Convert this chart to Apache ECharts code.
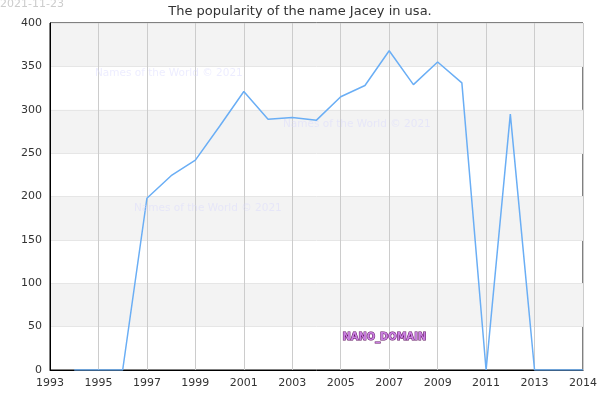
<!DOCTYPE html>
<html>
<head>
<meta charset="utf-8">
<script src="https://cdn.jsdelivr.net/npm/echarts@6/dist/echarts.min.js"></script>
<style>
  html, body { margin: 0; padding: 0; background: #fff; }
  #chart { width: 600px; height: 400px; }
</style>
</head>
<body>
<div id="chart"></div>
<script>
  // yearly counts of the name Jacey
  var years = [1994, 1995, 1996, 1997, 1998, 1999, 2000, 2001, 2002, 2003, 2004,
               2005, 2006, 2007, 2008, 2009, 2010, 2011, 2012, 2013, 2014, 2015];
  var counts = [0, 0, 0, 198, 224, 242, 281, 321, 289, 291, 288,
                315, 328, 368, 329, 355, 331, 0, 295, 0, 0, 0];
  var yTicks = [0, 50, 100, 150, 200, 250, 300, 350, 400];
  var watermark = 'Names of the World © 2021';

  var chart = echarts.init(document.getElementById('chart'));
  var font = 'DejaVu Sans';

  var options = {
    animation: false,
    textStyle: { fontFamily: font },
    title: {
      text: 'The popularity of the name Jacey in usa.',
      left: 'center',
      top: 0,
      textStyle: { fontSize: 13, fontWeight: 'normal', color: '#333', fontFamily: font }
    },
    grid: {
      left: 50, right: 14, top: 23, bottom: 30,
      show: true, borderColor: '#000', borderWidth: 1, backgroundColor: 'transparent'
    },
    xAxis: {
      type: 'value',
      min: 1993,
      max: 2015,
      interval: 2,
      axisLine: { lineStyle: { color: '#000' } },
      axisTick: { show: false },
      axisLabel: {
        color: '#333', fontSize: 11, margin: 8,
        formatter: function (v) { return v === 2015 ? '2014' : String(v); }
      },
      splitLine: { show: true, lineStyle: { color: '#ccc' } }
    },
    yAxis: {
      type: 'value',
      min: yTicks[0],
      max: yTicks[yTicks.length - 1],
      interval: 50,
      axisLine: { show: true, lineStyle: { color: '#000' } },
      axisTick: { show: false },
      axisLabel: { color: '#333', fontSize: 11, margin: 8 },
      splitLine: { show: true, lineStyle: { color: '#e6e6e6' } },
      splitArea: { show: true, areaStyle: { color: ['rgba(255,255,255,0)', '#f3f3f3'] } }
    },
    series: [{
      type: 'line',
      data: years.map(function (y, i) { return [y, counts[i]]; }),
      showSymbol: false,
      lineStyle: { color: '#6aaef5', width: 1.5 },
      itemStyle: { color: '#6aaef5' }
    }],
    graphic: [
      { type: 'text', left: 0, top: -1,
        style: { text: '2021-11-23', fill: '#ccc', font: '11px "DejaVu Sans"' } },
      { type: 'text', left: 95, top: 68, z: 100,
        style: { text: watermark, fill: 'rgba(215,215,255,0.45)', font: '10.5px "DejaVu Sans"' } },
      { type: 'text', left: 283, top: 119, z: 100,
        style: { text: watermark, fill: 'rgba(215,215,255,0.45)', font: '10.5px "DejaVu Sans"' } },
      { type: 'text', left: 134, top: 203, z: 100,
        style: { text: watermark, fill: 'rgba(215,215,255,0.45)', font: '10.5px "DejaVu Sans"' } },
      { type: 'text', left: 342, top: 331, z: 100,
        style: { text: 'NANO_DOMAIN', fill: '#c97fe0', stroke: '#5a0a5a', lineWidth: 1,
                 font: 'bold 11px "DejaVu Sans Condensed"' } }
    ]
  };
  chart.setOption(options);
</script>
</body>
</html>
